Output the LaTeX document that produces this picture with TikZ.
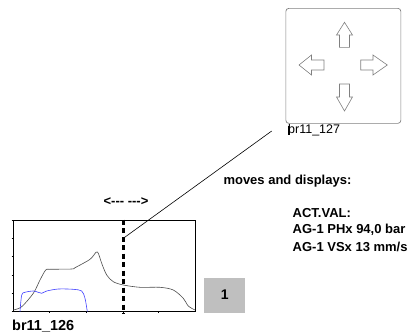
\documentclass[tikz,border=0pt]{standalone}
\usepackage{fontspec}
\setmainfont{Liberation Sans}
\begin{document}
\begin{tikzpicture}[x=1pt,y=-1pt,
  lbl/.style={inner sep=0pt,font=\fontsize{13}{15}\selectfont\bfseries},
  arrowshape/.style={draw=gray,line width=0.6pt,fill=white,line join=miter},
  axis/.style={draw=black,line width=0.6pt},
  dashv/.style={line width=2.4pt,dash pattern=on 5pt off 3.5pt}]
\useasboundingbox (0,0) rectangle (412,335);
% top panel
\node[draw=gray,line width=0.7pt,rounded corners=3pt,minimum width=115pt,minimum height=115pt,anchor=north west,inner sep=0pt] (panel) at (285.5,8) {};
\draw[arrowshape] (344.5,22.3) -- (352.5,35) -- (349.5,35) -- (349.5,47.3) -- (339.5,47.3) -- (339.5,35) -- (336.5,35) -- cycle;
\draw[arrowshape] (344.5,111) -- (352.5,97) -- (349.5,97) -- (349.5,84) -- (339.5,84) -- (339.5,97) -- (336.5,97) -- cycle;
\draw[arrowshape] (299,65) -- (311.5,55) -- (311.5,60) -- (324,60) -- (324,70) -- (311.5,70) -- (311.5,75) -- cycle;
\draw[arrowshape] (387.3,65) -- (373,55) -- (373,60) -- (360.7,60) -- (360.7,70) -- (373,70) -- (373,75) -- cycle;
\fill[black] (287.6,125.5) rectangle (290.2,134.5);
\node[inner sep=0pt,anchor=west,font=\fontsize{12.5}{14}\selectfont] (lab127) at (288,130) {br11\_127};
\coordinate (lstart) at (271.7,131);
% chart
\node[axis,minimum width=182pt,minimum height=91pt,anchor=north west,inner sep=0pt] (chart) at (13.3,220) {};
\foreach \yy in {220,238.3,256.7,275,293.3,311} \draw[line width=0.5pt] (11.5,\yy) -- (13.3,\yy);
\foreach \xx in {49.3,86.7,123.3,158.3} \draw[line width=0.5pt] (\xx,311) -- (\xx,313);
\draw[black!70,line width=0.6pt] plot[smooth,tension=0.5] coordinates {(13.3,310) (21.7,306.7) (33.3,293.3) (40,280) (45.7,270) (50,269.3) (71.7,269) (75,267.7) (90,259.3) (96,252.3) (98.3,253.3) (101.7,263.3) (106.7,275) (113.3,281.7) (123.3,285) (140,287.3) (160,287.3) (173.3,290) (183.3,298.3) (188.3,306) (195,310)};
\draw[blue!75!white,line width=0.6pt] plot[smooth,tension=0.5] coordinates {(20,311.5) (21.7,295) (25,292.3) (33.3,291) (38.3,292.3) (41.7,293.3) (46.7,291) (58.3,289) (73.3,289.3) (81.7,291) (85,298.3) (87.3,311.5)};
\draw[dashv] (123.3,219.5) -- (123.3,313.5);
\coordinate (lend) at (123.3,238.3);
\draw[line width=0.6pt] (lstart) -- (lend);
\node[lbl] (move) at (126,201.7) {<{-}{-}{-} {-}{-}{-}>};
\node[inner sep=0pt,anchor=west,font=\fontsize{14.5}{16}\selectfont\bfseries] (lab126) at (12,326.5) {br11\_126};
% grey box
\node[fill=black!25,minimum width=41pt,minimum height=35pt,inner sep=0pt,anchor=north west,font=\fontsize{14}{16}\selectfont\bfseries] (one) at (204,277.3) {1};
% texts
\node[lbl,anchor=west] (moves) at (223.3,181.5) {moves and displays:};
\node[lbl,anchor=west] (act) at (292.5,213.5) {ACT.VAL:};
\node[lbl,anchor=west] (ph) at (292.5,230) {AG-1 PHx 94,0 bar};
\node[lbl,anchor=west] (vs) at (292.5,246.5) {AG-1 VSx 13 mm/s};
\end{tikzpicture}
\end{document}
